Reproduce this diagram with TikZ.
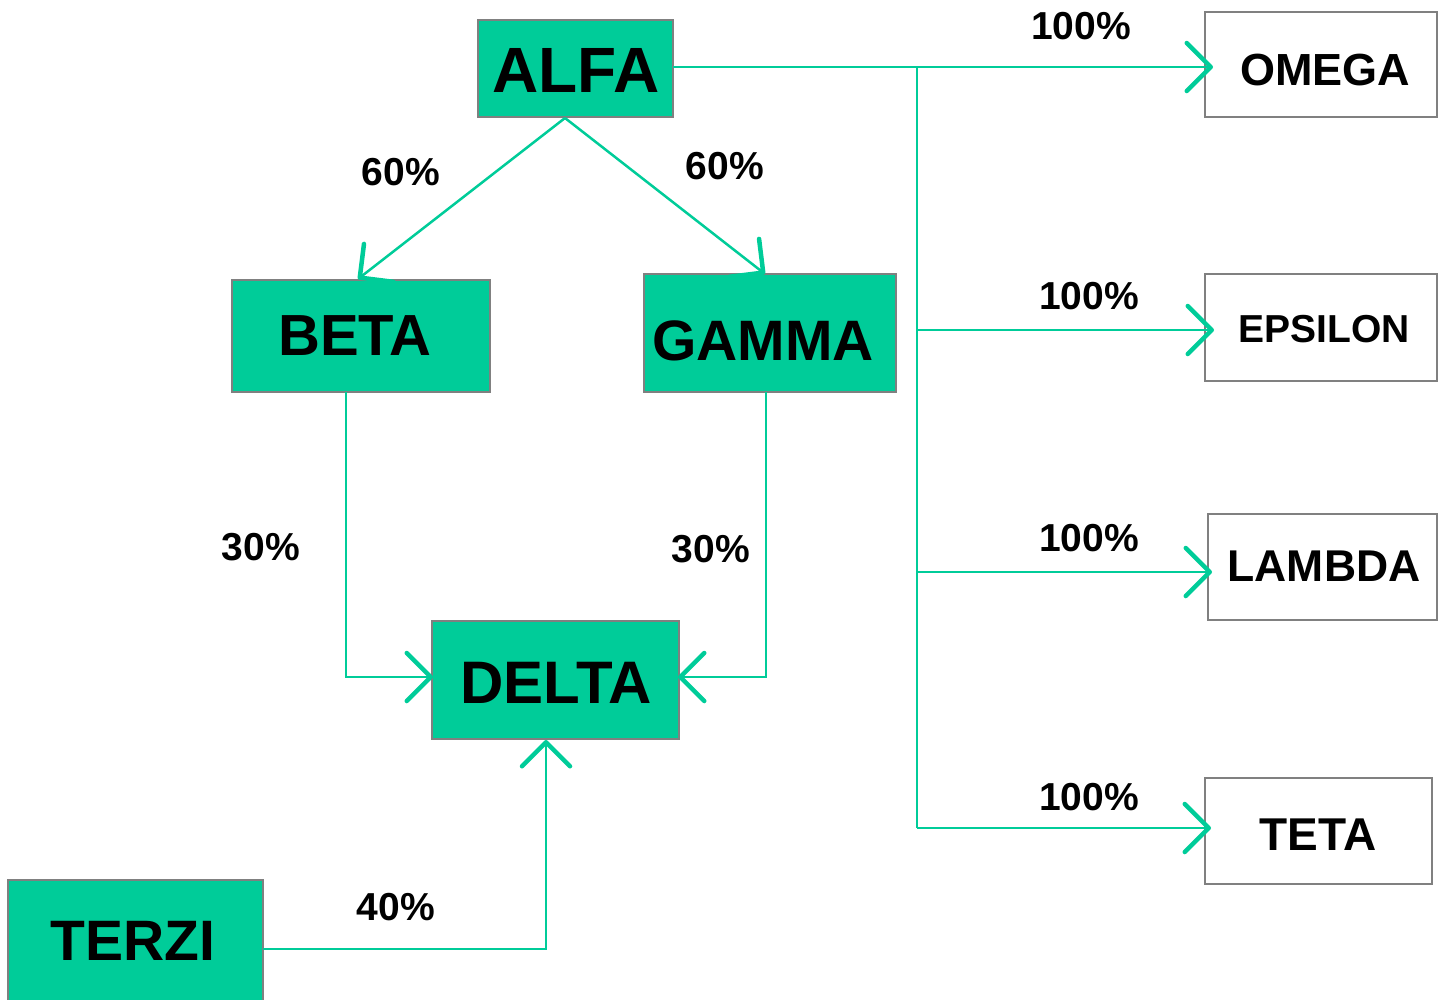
\documentclass[tikz,border=0pt]{standalone}
\usepackage{fontspec}
\setmainfont{Liberation Sans}
\usetikzlibrary{arrows.meta}
\definecolor{grn}{RGB}{0,204,153}
\definecolor{bord}{RGB}{128,128,128}
\begin{document}
\begin{tikzpicture}[x=1pt,y=-1pt,
  conn/.style={draw=grn,line width=2.5pt},
  arr/.style={conn,-{Straight Barb[length=24pt,width=48pt,line width=4.5pt,round]}},
  gbox/.style={draw=bord,line width=2.5pt,fill=grn},
  wbox/.style={draw=bord,line width=2.5pt,fill=white},
  pct/.style={font=\fontsize{39}{39}\selectfont\bfseries,text=black}]
\useasboundingbox (0,0) rectangle (1447,999);
\begin{scope}
\clip (0,0) rectangle (1447,999);
% boxes
\draw[gbox] (478,20) rectangle (673,117);
\draw[gbox] (232,280) rectangle (490,392);
\draw[gbox] (644,274) rectangle (896,392);
\draw[gbox] (432,621) rectangle (679,739);
\draw[gbox] (8,880) rectangle (263,1010);
\draw[wbox] (1205,12) rectangle (1437,117);
\draw[wbox] (1205,274) rectangle (1437,381);
\draw[wbox] (1208,514) rectangle (1437,620);
\draw[wbox] (1205,778) rectangle (1432,884);
\end{scope}
% texts
\node[font=\fontsize{64}{64}\selectfont\bfseries] (alfa) at (576,70) {ALFA};
\node[font=\fontsize{58}{58}\selectfont\bfseries] (beta) at (355,336) {BETA};
\node[font=\fontsize{57}{57}\selectfont\bfseries] (gamma) at (763,341) {GAMMA};
\node[font=\fontsize{60}{60}\selectfont\bfseries] (delta) at (556,683) {DELTA};
\node[font=\fontsize{57}{57}\selectfont\bfseries] (terzi) at (133,941) {TERZI};
\node[font=\fontsize{45}{45}\selectfont\bfseries] (omega) at (1325,70) {OMEGA};
\node[font=\fontsize{39}{39}\selectfont\bfseries] (epsilon) at (1324,329) {EPSILON};
\node[font=\fontsize{44.5}{44.5}\selectfont\bfseries] (lambda) at (1324,566) {LAMBDA};
\node[font=\fontsize{46}{46}\selectfont\bfseries] (teta) at (1318,835) {TETA};
% coordinates
\coordinate (alfaR) at (673,67);
\coordinate (alfaB) at (565,118);
\coordinate (omegaL) at (1213,67);
\coordinate (epsL) at (1214,330);
\coordinate (lamL) at (1212,572);
\coordinate (tetaL) at (1211,828);
\coordinate (busT) at (917,67);
\coordinate (busB) at (917,828);
\coordinate (bus1) at (917,330);
\coordinate (bus2) at (917,572);
\coordinate (betaT) at (358,279);
\coordinate (gammaT) at (765,274);
\coordinate (betaB) at (346,392);
\coordinate (gammaB) at (766,392);
\coordinate (cb) at (346,677);
\coordinate (cg) at (766,677);
\coordinate (deltaL) at (433,677);
\coordinate (deltaR) at (678,677);
\coordinate (deltaB) at (546,740);
\coordinate (terziR) at (263,949);
\coordinate (ct) at (546,949);
% connectors
\draw[arr] (alfaR) -- (omegaL);
\draw[conn] (busT) -- (busB);
\draw[arr] (bus1) -- (epsL);
\draw[arr] (bus2) -- (lamL);
\draw[arr] (busB) -- (tetaL);
\draw[arr] (alfaB) -- (betaT);
\draw[arr] (alfaB) -- (gammaT);
\draw[arr] (betaB) -- (cb) -- (deltaL);
\draw[arr] (gammaB) -- (cg) -- (deltaR);
\draw[arr] (terziR) -- (ct) -- (deltaB);
% labels
\node[pct] (p1) at (1081,26) {100\%};
\node[pct] (p2) at (1089,296) {100\%};
\node[pct] (p3) at (1089,538) {100\%};
\node[pct] (p4) at (1089,797) {100\%};
\node[pct] (p5) at (401,172) {60\%};
\node[pct] (p6) at (725,166) {60\%};
\node[pct] (p7) at (261,547) {30\%};
\node[pct] (p8) at (711,549) {30\%};
\node[pct] (p9) at (396,907) {40\%};
\end{tikzpicture}
\end{document}
